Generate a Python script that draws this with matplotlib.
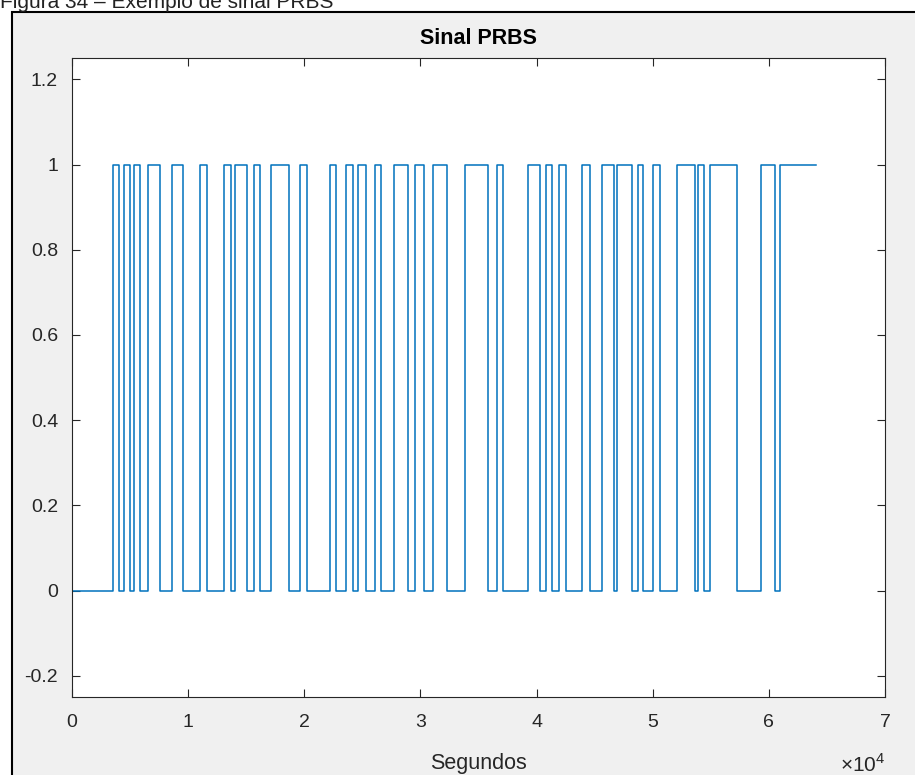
import numpy as np
import matplotlib
matplotlib.use("Agg")
import matplotlib.pyplot as plt
from matplotlib.patches import Rectangle
from matplotlib.ticker import FuncFormatter

plt.rcParams["font.family"] = ["Liberation Sans", "DejaVu Sans"]
plt.rcParams["mathtext.fontset"] = "custom"
plt.rcParams["mathtext.rm"] = "Liberation Sans"

# PRBS switching instants (seconds) and the level the signal takes from each instant
switch_times = [0, 3530, 4050, 4480, 5000, 5340, 5860, 6550, 7580, 8610, 9560,
                11000, 11600, 13100, 13700, 14000, 15100, 15700, 16200, 17100, 18700,
                19600, 20200, 22200, 22700, 23600, 24200, 24600, 25300, 26100, 26600,
                27700, 28900, 29500, 30300, 31100, 32300, 33800, 35800, 36600, 37100,
                39300, 40300, 40800, 41300, 41900, 42500, 43900, 44600, 45600, 46700,
                46900, 48200, 48700, 49200, 50000, 50600, 52100, 53600, 53900, 54400,
                54900, 57300, 59300, 60500, 61000, 64100]
levels = [0, 1, 0, 1, 0, 1, 0, 1, 0, 1, 0,
          1, 0, 1, 0, 1, 0, 1, 0, 1, 0,
          1, 0, 1, 0, 1, 0, 1, 0, 1, 0,
          1, 0, 1, 0, 1, 0, 1, 0, 1, 0,
          1, 0, 1, 0, 1, 0, 1, 0, 1, 0,
          1, 0, 1, 0, 1, 0, 1, 0, 1, 0,
          1, 0, 1, 0, 1, 1]

x_ticks = [0, 10000, 20000, 30000, 40000, 50000, 60000, 70000]
y_ticks = [-0.2, 0, 0.2, 0.4, 0.6, 0.8, 1, 1.2]

W, H = 915, 775
fig = plt.figure(figsize=(W / 100, H / 100), dpi=100)
fig.patch.set_facecolor("white")

# grey figure window with black frame (cut by the page)
fig.patches.append(Rectangle((12 / W, -0.05), 1.1, 1 - 12 / H + 0.05,
                             transform=fig.transFigure, facecolor="#f0f0f0",
                             edgecolor="black", linewidth=1.5, zorder=-10))
fig.text(0.0, 1 - 8 / H, "Figura 34 – Exemplo de sinal PRBS", fontsize=15,
         color="#222222", va="baseline", ha="left")

ax = fig.add_axes([72 / W, 1 - 697 / H, (885 - 72) / W, (697 - 58) / H])
ax.set_facecolor("white")
ax.plot(switch_times, levels, drawstyle="steps-post", color="#0072BD", linewidth=1.1)

ax.set_xlim(0, 70000)
ax.set_ylim(-0.25, 1.25)
ax.set_xticks(x_ticks)
ax.set_yticks(y_ticks)
ax.xaxis.set_major_formatter(FuncFormatter(lambda v, p: f"{v / 1e4:g}"))
ax.yaxis.set_major_formatter(FuncFormatter(lambda v, p: f"{v:g}"))
ax.tick_params(direction="in", top=True, right=True, length=6, width=0.8,
               colors="#262626", labelsize=14)
ax.tick_params(axis="x", pad=12)
ax.tick_params(axis="y", pad=10)
for s in ax.spines.values():
    s.set_color("#262626")
    s.set_linewidth(0.8)

ax.set_title("Sinal PRBS", fontsize=15.5, fontweight="bold", color="black", pad=10)
ax.set_xlabel("Segundos", fontsize=15.5, color="#262626", labelpad=16)
fig.text(885 / W, 1 - 764 / H, r"$\times10^{4}$", fontsize=15, color="#262626",
         ha="right", va="center")

fig.savefig("out.png", dpi=100, facecolor=fig.get_facecolor())
